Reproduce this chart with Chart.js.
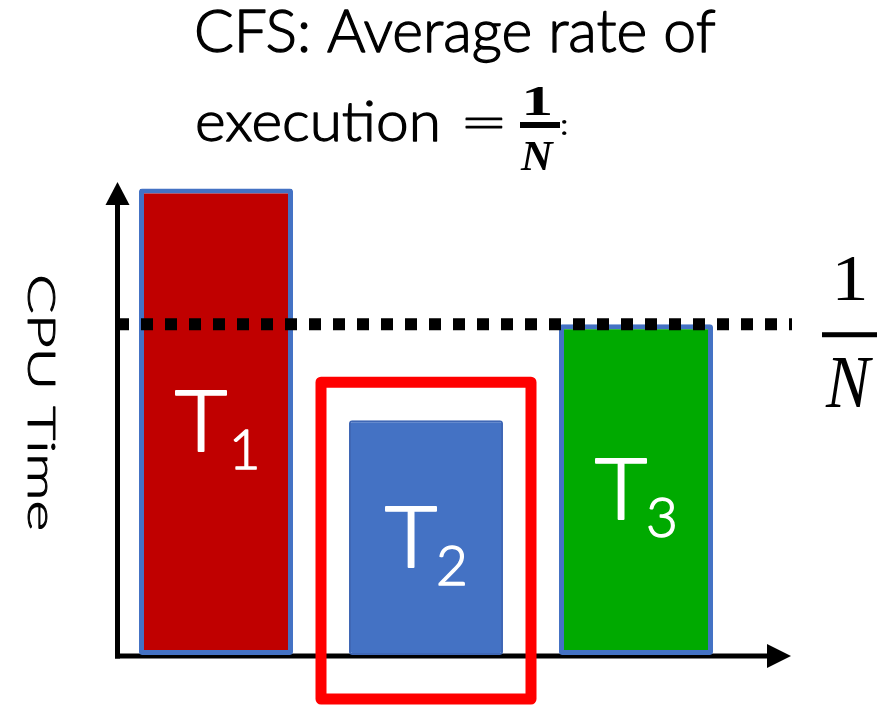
<!DOCTYPE html>
<html>
<head>
<meta charset="utf-8">
<script src="https://cdn.jsdelivr.net/npm/chart.js@4"></script>
<style>
  html, body { margin: 0; padding: 0; background: #ffffff; }
  #wrap { width: 891px; height: 705px; }
</style>
</head>
<body>
<div id="wrap"><canvas id="c" width="891" height="705"></canvas></div>
<script>
// ---- data ----
const categories = ['T1', 'T2', 'T3'];
const cpuTime = [1.41, 0.71, 1.0];
const fairShare = 1.0;            // the 1/N level
const yMax = 1.43;
const titleLine1 = 'CFS: Average rate of';
const titleLine2 = 'execution =';
const yAxisTitle = 'CPU Time';
const fracNum = '1';
const fracDen = 'N';
const highlightIndex = 1;         // T2 is boxed

const SANS = 'Lato, "Open Sans", sans-serif';
const SERIF = '"Liberation Serif", "DejaVu Serif", serif';

function ink(ctx, text) {
  const m = ctx.measureText(text);
  return { l: m.actualBoundingBoxLeft, r: m.actualBoundingBoxRight,
           a: m.actualBoundingBoxAscent, d: m.actualBoundingBoxDescent };
}
function paint(ctx, text, s, extra) {
  ctx.fillText(text, 0, 0);
  if (extra) {
    ctx.strokeStyle = ctx.fillStyle;
    ctx.lineWidth = extra / s;
    ctx.lineJoin = 'round';
    ctx.strokeText(text, 0, 0);
  }
}
// place the ink of text exactly in a box
function drawBox(ctx, text, font, x0, y0, x1, y1, extra) {
  ctx.save();
  ctx.font = font; ctx.textAlign = 'left'; ctx.textBaseline = 'alphabetic';
  const m = ink(ctx, text);
  const sx = (x1 - x0) / (m.l + m.r), sy = (y1 - y0) / (m.a + m.d);
  ctx.translate(x0 + m.l * sx, y0 + m.a * sy);
  ctx.scale(sx, sy);
  paint(ctx, text, (sx + sy) / 2, extra);
  ctx.restore();
}
// ink left + width, baseline, vertical scale from a reference glyph height
function drawFit(ctx, text, font, x0, base, width, refGlyph, refH, extra) {
  ctx.save();
  ctx.font = font; ctx.textAlign = 'left'; ctx.textBaseline = 'alphabetic';
  const m = ink(ctx, text);
  const g = ink(ctx, refGlyph);
  const sx = width / (m.l + m.r), sy = refH / g.a;
  ctx.translate(x0 + m.l * sx, base);
  ctx.scale(sx, sy);
  paint(ctx, text, (sx + sy) / 2, extra);
  ctx.restore();
}
// uniform scale so ink height = h, ink left at x0, ink top at y0
function drawUniform(ctx, text, font, x0, y0, h, extra) {
  ctx.save();
  ctx.font = font; ctx.textAlign = 'left'; ctx.textBaseline = 'alphabetic';
  const m = ink(ctx, text);
  const s = h / (m.a + m.d);
  ctx.translate(x0 + m.l * s, y0 + m.a * s);
  ctx.scale(s, s);
  paint(ctx, text, s, extra);
  ctx.restore();
}

const deco = {
  id: 'deco',
  beforeDatasetsDraw(chart) {
    const ctx = chart.ctx, a = chart.chartArea;
    const y0 = chart.scales.y.getPixelForValue(0);
    const ax = a.left + 6.5;
    const ay = y0 + 1;
    ctx.save();
    ctx.fillStyle = '#000';
    ctx.strokeStyle = '#000';
    ctx.lineWidth = 5;
    ctx.beginPath();
    ctx.moveTo(ax, ay + 2.5);
    ctx.lineTo(ax, a.top + 22);
    ctx.stroke();
    ctx.beginPath();
    ctx.moveTo(ax, a.top);
    ctx.lineTo(ax - 12, a.top + 23);
    ctx.lineTo(ax + 12, a.top + 23);
    ctx.closePath();
    ctx.fill();
    const xEnd = a.right + 50;
    ctx.beginPath();
    ctx.moveTo(ax - 2.5, ay);
    ctx.lineTo(xEnd - 22, ay);
    ctx.stroke();
    ctx.beginPath();
    ctx.moveTo(xEnd, ay);
    ctx.lineTo(xEnd - 24, ay - 12);
    ctx.lineTo(xEnd - 24, ay + 12);
    ctx.closePath();
    ctx.fill();
    ctx.restore();
  },
  afterDatasetsDraw(chart) {
    const ctx = chart.ctx, a = chart.chartArea;
    const ys = chart.scales.y;
    const y0 = ys.getPixelForValue(0);
    const meta = chart.getDatasetMeta(0);
    ctx.save();

    // dotted fair-share line
    const yl = ys.getPixelForValue(fairShare);
    ctx.strokeStyle = '#000';
    ctx.lineWidth = 12;
    ctx.setLineDash([12, 12]);
    ctx.lineCap = 'butt';
    ctx.beginPath();
    ctx.moveTo(a.left + 6, yl);
    ctx.lineTo(a.right + 51, yl);
    ctx.stroke();
    ctx.setLineDash([]);

    // red highlight box around T2
    const hb = meta.data[highlightIndex];
    const hl = hb.x - hb.width / 2 - 28, hr = hb.x + hb.width / 2 + 28;
    const ht = hb.y - 38, hbt = y0 + 44;
    ctx.strokeStyle = '#FF0000';
    ctx.lineWidth = 11;
    ctx.lineJoin = 'round';
    ctx.strokeRect(hl, ht, hr - hl, hbt - ht);

    // bar labels: T with subscript
    ctx.fillStyle = '#ffffff';
    meta.data.forEach((bar, i) => {
      const lab = categories[i];
      const mid = (bar.y + y0) / 2;
      drawBox(ctx, lab.charAt(0), '300 80px ' + SANS, bar.x - 40, mid - 31, bar.x + 11, mid + 29, 2);
      const sub = lab.slice(1);
      drawUniform(ctx, sub, '300 52px ' + SANS, bar.x + (sub === '1' ? 18 : 12), mid + 9, 38, 1.4);
    });

    // right 1/N label
    ctx.fillStyle = '#000';
    drawBox(ctx, fracNum, '64px ' + SERIF, a.right + 96, yl - 67, a.right + 124, yl - 24);
    ctx.fillRect(a.right + 81, yl + 8, 55, 5);
    drawBox(ctx, fracDen, 'italic 74px ' + SERIF, a.right + 84, yl + 34, a.right + 132, yl + 83);

    // title
    drawFit(ctx, titleLine1, '300 58px ' + SANS, 197, 52, 518, 'C', 42, 1.3);
    const parts = titleLine2.split(' ');
    drawFit(ctx, parts[0], '300 58px ' + SANS, 198, 141, 239, 'x', 28, 1.3);
    drawBox(ctx, parts[1], '300 58px ' + SANS, 465, 117, 502, 128, 1);
    drawBox(ctx, fracNum, 'bold 40px ' + SERIF, 526, 88, 550, 115);
    ctx.fillRect(520, 122, 40, 6);
    drawBox(ctx, fracDen, 'bold italic 40px ' + SERIF, 520, 143, 555, 170);
    drawBox(ctx, ':', '400 34px ' + SANS, 562, 120, 567, 135);

    // y axis title, rotated clockwise
    ctx.save();
    ctx.translate(28, 0);
    ctx.rotate(Math.PI / 2);
    drawFit(ctx, yAxisTitle, '300 38px ' + SANS, 277, 0, 253, 'C', 27, 1.2);
    ctx.restore();

    ctx.restore();
  }
};

new Chart(document.getElementById('c'), {
  type: 'bar',
  data: {
    labels: categories,
    datasets: [{
      data: cpuTime,
      backgroundColor: ['#C00000', '#4472C4', '#00AA00'],
      borderColor: ['#4472C4', '#3F67B5', '#4472C4'],
      borderWidth: [5, 2, 5],
      borderRadius: 3,
      borderSkipped: false,
      barPercentage: 154 / 210,
      categoryPercentage: 1
    }]
  },
  options: {
    responsive: false,
    animation: false,
    devicePixelRatio: 1,
    layout: { padding: { left: 111, right: 150, top: 182, bottom: 50 } },
    plugins: { legend: { display: false }, title: { display: false }, tooltip: { enabled: false } },
    scales: {
      x: { display: false, offset: true },
      y: { display: false, min: 0, max: yMax }
    }
  },
  plugins: [deco]
});
</script>
</body>
</html>
